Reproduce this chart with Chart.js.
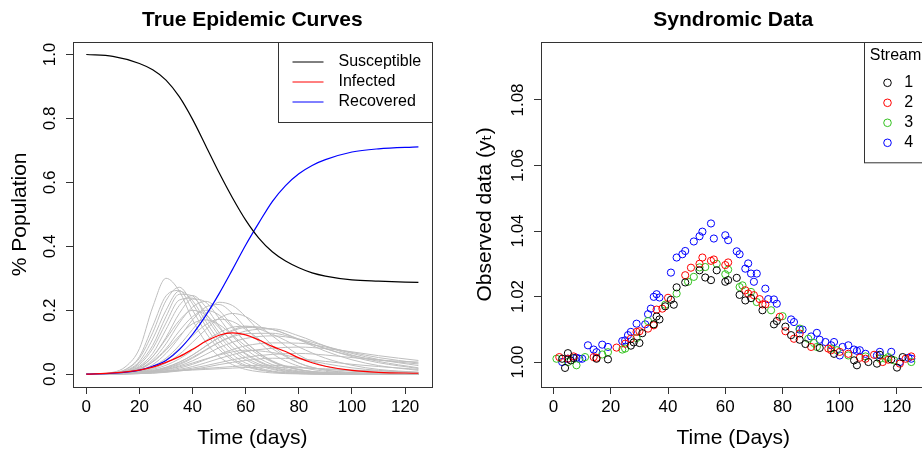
<!DOCTYPE html>
<html>
<head>
<meta charset="utf-8">
<script src="https://cdn.jsdelivr.net/npm/chart.js@4.4.1/dist/chart.umd.min.js"></script>
<style>
  html, body { margin: 0; padding: 0; background: #fff; overflow: hidden; width: 922px; height: 452px; }
  #left { position: absolute; left: 0; top: 0; }
  #right { position: absolute; left: 461px; top: 0; }
</style>
</head>
<body>
<canvas id="left" width="461" height="452"></canvas>
<canvas id="right" width="490" height="452"></canvas>
<script>
// Left panel - true epidemic curves
const sirDays = [0, 10, 20, 25, 30, 35, 40, 45, 50, 55, 60, 65, 70, 75, 80, 85, 90, 100, 110, 125];
const susceptible = [1.0, 0.994, 0.972, 0.952, 0.92, 0.868, 0.797, 0.714, 0.63, 0.552, 0.482, 0.425, 0.383, 0.354, 0.333, 0.317, 0.307, 0.295, 0.291, 0.287];
const infected = [0, 0.004, 0.013, 0.022, 0.037, 0.055, 0.078, 0.103, 0.122, 0.129, 0.123, 0.107, 0.087, 0.071, 0.051, 0.036, 0.025, 0.012, 0.006, 0.003];
const recovered = [0, 0.003, 0.013, 0.025, 0.043, 0.077, 0.125, 0.184, 0.252, 0.327, 0.404, 0.474, 0.54, 0.59, 0.627, 0.653, 0.671, 0.695, 0.705, 0.711];
const sirLabels = ["Susceptible", "Infected", "Recovered"];

// grey runs (infected curves of other samples)
const grayDays = [0, 10, 15, 20, 25, 30, 35, 40, 45, 50, 55, 60, 70, 80, 90, 100, 110, 125];
const grayRuns = [
    [0, 0.006, 0.025, 0.08, 0.21, 0.30, 0.26, 0.17, 0.10, 0.055, 0.03, 0.015, 0.004, 0.001, 0, 0, 0, 0],
    [0, 0.004, 0.015, 0.05, 0.13, 0.23, 0.272, 0.22, 0.15, 0.09, 0.05, 0.028, 0.008, 0.002, 0.001, 0, 0, 0],
    [0, 0.004, 0.016, 0.055, 0.15, 0.245, 0.262, 0.2, 0.13, 0.078, 0.044, 0.024, 0.007, 0.002, 0, 0, 0, 0],
    [0, 0.003, 0.012, 0.04, 0.11, 0.20, 0.26, 0.23, 0.165, 0.105, 0.062, 0.035, 0.01, 0.003, 0.001, 0, 0, 0],
    [0, 0.003, 0.01, 0.035, 0.09, 0.18, 0.25, 0.245, 0.18, 0.12, 0.075, 0.045, 0.015, 0.004, 0.001, 0, 0, 0],
    [0, 0.003, 0.01, 0.03, 0.08, 0.16, 0.232, 0.238, 0.19, 0.13, 0.085, 0.052, 0.018, 0.005, 0.002, 0, 0, 0],
    [0, 0.002, 0.008, 0.025, 0.065, 0.14, 0.215, 0.246, 0.21, 0.15, 0.10, 0.062, 0.022, 0.007, 0.002, 0.001, 0, 0],
    [0, 0.002, 0.007, 0.02, 0.055, 0.115, 0.19, 0.235, 0.225, 0.175, 0.12, 0.078, 0.03, 0.01, 0.003, 0.001, 0, 0],
    [0, 0.002, 0.006, 0.017, 0.045, 0.095, 0.16, 0.21, 0.228, 0.2, 0.15, 0.1, 0.042, 0.015, 0.005, 0.002, 0, 0],
    [0, 0.001, 0.004, 0.01, 0.025, 0.05, 0.09, 0.14, 0.19, 0.225, 0.215, 0.18, 0.09, 0.035, 0.013, 0.005, 0.002, 0],
    [0, 0.001, 0.004, 0.012, 0.03, 0.065, 0.115, 0.17, 0.21, 0.218, 0.19, 0.145, 0.065, 0.025, 0.009, 0.003, 0.001, 0],
    [0, 0.002, 0.008, 0.022, 0.055, 0.11, 0.168, 0.2, 0.185, 0.145, 0.1, 0.065, 0.024, 0.008, 0.003, 0.001, 0, 0],
    [0, 0.002, 0.006, 0.015, 0.04, 0.08, 0.135, 0.18, 0.2, 0.185, 0.145, 0.1, 0.04, 0.014, 0.005, 0.002, 0, 0],
    [0, 0.002, 0.006, 0.016, 0.038, 0.075, 0.12, 0.158, 0.17, 0.155, 0.122, 0.088, 0.038, 0.014, 0.005, 0.002, 0.001, 0],
    [0, 0.001, 0.003, 0.008, 0.018, 0.035, 0.062, 0.1, 0.14, 0.175, 0.19, 0.18, 0.12, 0.06, 0.025, 0.01, 0.004, 0.001],
    [0, 0.001, 0.003, 0.009, 0.022, 0.045, 0.08, 0.12, 0.155, 0.172, 0.165, 0.14, 0.08, 0.035, 0.013, 0.005, 0.002, 0],
    [0, 0.001, 0.003, 0.006, 0.012, 0.022, 0.038, 0.06, 0.088, 0.115, 0.138, 0.15, 0.14, 0.11, 0.08, 0.058, 0.045, 0.038],
    [0, 0.001, 0.003, 0.007, 0.015, 0.028, 0.048, 0.075, 0.105, 0.13, 0.147, 0.15, 0.125, 0.085, 0.05, 0.028, 0.015, 0.006],
    [0, 0.001, 0.002, 0.005, 0.011, 0.021, 0.037, 0.06, 0.088, 0.115, 0.135, 0.146, 0.14, 0.108, 0.072, 0.045, 0.027, 0.012],
    [0, 0.001, 0.002, 0.004, 0.009, 0.017, 0.03, 0.05, 0.075, 0.1, 0.12, 0.135, 0.142, 0.12, 0.088, 0.06, 0.04, 0.02],
    [0, 0.001, 0.002, 0.005, 0.01, 0.019, 0.033, 0.053, 0.077, 0.1, 0.117, 0.127, 0.128, 0.108, 0.08, 0.055, 0.036, 0.018],
    [0, 0.001, 0.002, 0.004, 0.008, 0.015, 0.026, 0.042, 0.062, 0.083, 0.1, 0.112, 0.12, 0.11, 0.088, 0.065, 0.046, 0.027],
    [0, 0, 0.001, 0.003, 0.006, 0.011, 0.019, 0.031, 0.046, 0.062, 0.077, 0.089, 0.098, 0.097, 0.085, 0.068, 0.052, 0.035],
    [0, 0, 0.001, 0.002, 0.005, 0.009, 0.015, 0.024, 0.036, 0.049, 0.061, 0.071, 0.081, 0.085, 0.08, 0.07, 0.058, 0.043],
    [0, 0.001, 0.002, 0.004, 0.008, 0.014, 0.023, 0.035, 0.048, 0.06, 0.07, 0.075, 0.068, 0.05, 0.033, 0.02, 0.012, 0.005],
    [0, 0, 0.001, 0.002, 0.004, 0.007, 0.012, 0.019, 0.027, 0.036, 0.045, 0.053, 0.062, 0.065, 0.06, 0.052, 0.044, 0.032],
    [0, 0, 0.001, 0.002, 0.003, 0.006, 0.01, 0.015, 0.022, 0.03, 0.037, 0.043, 0.05, 0.048, 0.04, 0.031, 0.024, 0.015],
    [0, 0.002, 0.004, 0.006, 0.008, 0.01, 0.012, 0.015, 0.018, 0.021, 0.024, 0.027, 0.028, 0.022, 0.015, 0.01, 0.006, 0.003],
    [0, 0.002, 0.003, 0.005, 0.007, 0.009, 0.011, 0.013, 0.015, 0.017, 0.019, 0.021, 0.022, 0.02, 0.017, 0.013, 0.01, 0.006]
];

const leftXTicks = [0, 20, 40, 60, 80, 100, 120];
const leftYTicks = [0, 0.2, 0.4, 0.6, 0.8, 1.0];
const leftYLabels = ["0.0", "0.2", "0.4", "0.6", "0.8", "1.0"];

// Right panel - syndromic data, 4 streams
const days1 = [3, 4, 5, 6, 7, 15, 19, 27, 28, 30, 31, 35, 36, 37, 39, 41, 42, 43, 46, 51, 53, 55, 57, 60, 61, 64, 65, 67, 69, 73, 77, 78, 81, 83, 86, 88, 93, 98, 105, 106, 110, 113, 114, 118, 120, 122];
const vals1 = [1.0010, 0.9982, 1.0027, 1.0005, 1.0012, 1.0010, 1.0008, 1.0050, 1.0060, 1.0058, 1.0088, 1.0115, 1.0139, 1.0130, 1.0170, 1.0190, 1.0175, 1.0228, 1.0243, 1.0280, 1.0258, 1.0250, 1.0280, 1.0245, 1.0250, 1.0257, 1.0205, 1.0188, 1.0195, 1.0158, 1.0115, 1.0125, 1.0108, 1.0082, 1.0068, 1.0055, 1.0043, 1.0025, 1.0005, 0.9990, 1.0000, 0.9995, 1.0022, 1.0008, 0.9983, 1.0015];
const days2 = [2, 5, 7, 14, 15, 22, 25, 27, 29, 30, 33, 35, 36, 38, 40, 46, 48, 51, 52, 55, 56, 60, 61, 67, 68, 70, 72, 73, 74, 79, 81, 84, 86, 90, 96, 97, 100, 103, 107, 109, 112, 115, 117, 121, 123, 125];
const vals2 = [1.0015, 1.0010, 1.0017, 1.0015, 1.0013, 1.0044, 1.0056, 1.0071, 1.0092, 1.0094, 1.0102, 1.0112, 1.0160, 1.0163, 1.0196, 1.0265, 1.0288, 1.0300, 1.0319, 1.0309, 1.0313, 1.0296, 1.0304, 1.0219, 1.0209, 1.0204, 1.0192, 1.0176, 1.0176, 1.0138, 1.0094, 1.0071, 1.0087, 1.0046, 1.0041, 1.0036, 1.0031, 1.0025, 1.0013, 1.0010, 1.0022, 1.0000, 1.0007, 0.9995, 1.0010, 1.0017];
const days3 = [1, 5, 8, 11, 17, 19, 24, 25, 29, 33, 35, 39, 43, 47, 49, 51, 53, 57, 60, 61, 65, 66, 69, 71, 76, 80, 86, 89, 91, 92, 97, 99, 103, 109, 114, 116, 117, 119, 125];
const vals3 = [1.0010, 1.0000, 0.9990, 1.0015, 1.0023, 1.0030, 1.0038, 1.0041, 1.0073, 1.0125, 1.0115, 1.0175, 1.0209, 1.0245, 1.0260, 1.0289, 1.0290, 1.0300, 1.0268, 1.0282, 1.0229, 1.0234, 1.0214, 1.0183, 1.0158, 1.0140, 1.0102, 1.0071, 1.0058, 1.0046, 1.0041, 1.0036, 1.0020, 1.0017, 1.0010, 1.0010, 1.0015, 1.0005, 1.0000];
const days4 = [3, 5, 8, 9, 10, 12, 14, 15, 17, 19, 24, 25, 26, 27, 29, 32, 33, 34, 35, 36, 37, 41, 43, 45, 46, 49, 51, 52, 55, 56, 60, 61, 64, 65, 67, 68, 69, 70, 71, 74, 75, 77, 78, 83, 84, 86, 87, 90, 92, 93, 95, 97, 98, 100, 101, 103, 105, 106, 107, 109, 113, 114, 118, 121, 124, 125];
const vals4 = [1.0000, 1.0010, 1.0013, 1.0010, 1.0010, 1.0051, 1.0038, 1.0030, 1.0053, 1.0046, 1.0064, 1.0066, 1.0082, 1.0092, 1.0117, 1.0115, 1.0146, 1.0163, 1.0199, 1.0207, 1.0197, 1.0273, 1.0319, 1.0329, 1.0339, 1.0368, 1.0384, 1.0398, 1.0423, 1.0377, 1.0387, 1.0372, 1.0338, 1.0329, 1.0285, 1.0301, 1.0270, 1.0245, 1.0270, 1.0224, 1.0192, 1.0191, 1.0178, 1.0130, 1.0122, 1.0099, 1.0099, 1.0078, 1.0089, 1.0068, 1.0061, 1.0051, 1.0061, 1.0020, 1.0046, 1.0051, 1.0038, 1.0034, 1.0036, 1.0025, 1.0020, 1.0031, 1.0031, 1.0000, 1.0013, 1.0010];
const streamNames = ["1", "2", "3", "4"];
const streamColors = ["#000000", "#FF0000", "#33C21F", "#0000FF"];

const rightXTicks = [0, 20, 40, 60, 80, 100, 120];
const rightYTicks = [1.00, 1.02, 1.04, 1.06, 1.08];
const rightYLabels = ["1.00", "1.02", "1.04", "1.06", "1.08"];

const family = "'Liberation Sans', Arial, Helvetica, 'DejaVu Sans', sans-serif";
Chart.defaults.font.family = family;
Chart.defaults.color = "#000";

function pairs(xs, ys) {
    return xs.map((x, i) => ({ x: x, y: ys[i] }));
}

// box, rotated y labels and legend in R style
const rFrame = {
    id: "rFrame",
    afterDraw(chart, args, o) {
        const ctx = chart.ctx;
        const a = chart.chartArea;
        const y = chart.scales.y;
        ctx.save();
        ctx.strokeStyle = "#333";
        ctx.lineWidth = 1;
        ctx.strokeRect(Math.round(a.left) + 0.5, Math.round(a.top) + 0.5, Math.round(a.right - a.left), Math.round(a.bottom - a.top));

        ctx.fillStyle = "#000";
        ctx.font = "17px " + family;
        ctx.textAlign = "center";
        ctx.textBaseline = "middle";
        o.yTicks.forEach((v, i) => {
            ctx.save();
            ctx.translate(a.left - 22.3, y.getPixelForValue(v));
            ctx.rotate(-Math.PI / 2);
            ctx.fillText(o.yLabels[i], 0, 0);
            ctx.restore();
        });

        const L = o.legend;
        const bx = Math.round(L.left) + 0.5;
        const by = Math.round(a.top) + 0.5;
        const bw = Math.round(a.right - L.left);
        ctx.fillStyle = "#fff";
        ctx.fillRect(bx, by, bw, L.height);
        ctx.strokeStyle = "#333";
        ctx.strokeRect(bx, by, bw, L.height);
        ctx.font = "16px " + family;
        ctx.fillStyle = "#000";
        if (L.title) {
            ctx.textAlign = "center";
            ctx.fillText(L.title, bx + bw / 2, a.top + L.titleY);
        }
        ctx.textAlign = "left";
        for (let i = 0; i < L.count; i++) {
            const ds = chart.data.datasets[i];
            const ry = a.top + L.rowY + i * 20;
            ctx.strokeStyle = ds.borderColor;
            ctx.lineWidth = 1;
            ctx.beginPath();
            if (L.symbol === "line") {
                ctx.moveTo(bx + 14, ry);
                ctx.lineTo(bx + 45, ry);
            } else {
                ctx.arc(bx + 23, ry, 3.8, 0, Math.PI * 2);
            }
            ctx.stroke();
            ctx.fillStyle = "#000";
            ctx.fillText(ds.label, bx + L.textX, ry);
        }
        ctx.restore();
    }
};

function axes(xMin, xMax, xTicks, yMin, yMax, yTicks, xTitle, yTitle, yWidth, yTitlePad) {
    const tickGrid = { display: true, drawOnChartArea: false, drawTicks: true, tickLength: 7, color: "#333", lineWidth: 1 };
    return {
        x: {
            type: "linear", min: xMin, max: xMax,
            afterBuildTicks: s => { s.ticks = xTicks.map(v => ({ value: v })); },
            afterFit: s => { s.height = 65; },
            grid: tickGrid,
            border: { display: false },
            ticks: { font: { size: 17 }, color: "#000", padding: 3, maxRotation: 0, autoSkip: false },
            title: { display: true, text: xTitle, font: { size: 21 }, color: "#000", padding: { top: 0, bottom: 1.4 } }
        },
        y: {
            type: "linear", min: yMin, max: yMax,
            afterBuildTicks: s => { s.ticks = yTicks.map(v => ({ value: v })); },
            afterFit: s => { s.width = yWidth; },
            grid: tickGrid,
            border: { display: false },
            ticks: { display: false },
            title: { display: true, text: yTitle, font: { size: 21 }, color: "#000", padding: { top: yTitlePad, bottom: 0 } }
        }
    };
}

function titleOpts(text) {
    return {
        display: true, text: text, fullSize: false, color: "#000",
        font: { size: 21, weight: "bold" },
        padding: { top: 7.8, bottom: 8.7 }
    };
}

// Left chart
const leftSets = [
    { label: sirLabels[0], data: pairs(sirDays, susceptible), borderColor: "#000000" },
    { label: sirLabels[1], data: pairs(sirDays, infected), borderColor: "#FF0000" },
    { label: sirLabels[2], data: pairs(sirDays, recovered), borderColor: "#0000FF" }
].concat(grayRuns.map(run => ({ label: "", data: pairs(grayDays, run), borderColor: "#BEBEBE", borderWidth: 1 })));

new Chart(document.getElementById("left"), {
    type: "line",
    data: { datasets: leftSets },
    options: {
        responsive: false,
        animation: false,
        layout: { padding: { left: 0, top: 0, right: 29.3, bottom: 0 } },
        elements: {
            line: { borderWidth: 1.2, cubicInterpolationMode: "monotone", fill: false },
            point: { radius: 0, hoverRadius: 0 }
        },
        scales: axes(-5, 130, leftXTicks, -0.04, 1.04, leftYTicks, "Time (days)", "% Population", 73, 7.9),
        plugins: {
            legend: { display: false },
            tooltip: { enabled: false },
            title: titleOpts("True Epidemic Curves"),
            rFrame: {
                yTicks: leftYTicks, yLabels: leftYLabels,
                legend: { left: 277.7, height: 80, count: 3, symbol: "line", rowY: 20.3, textX: 60 }
            }
        }
    },
    plugins: [rFrame]
});

// Right chart
const streamDays = [days1, days2, days3, days4];
const streamVals = [vals1, vals2, vals3, vals4];
const rightSets = streamNames.map((name, i) => ({
    label: name,
    data: pairs(streamDays[i], streamVals[i]),
    borderColor: streamColors[i],
    backgroundColor: "rgba(0,0,0,0)",
    pointStyle: "circle",
    pointRadius: 3.6,
    pointHoverRadius: 3.6,
    pointBorderWidth: 1
}));

new Chart(document.getElementById("right"), {
    type: "scatter",
    data: { datasets: rightSets },
    options: {
        responsive: false,
        animation: false,
        layout: { padding: { left: 0, top: 0, right: 25.4, bottom: 0 } },
        scales: axes(-4.4, 130, rightXTicks, 0.99237, 1.0978, rightYTicks, "Time (Days)", "Observed data (yₜ)", 80, 11.4),
        plugins: {
            legend: { display: false },
            tooltip: { enabled: false },
            title: titleOpts("Syndromic Data"),
            rFrame: {
                yTicks: rightYTicks, yLabels: rightYLabels,
                legend: { left: 403, height: 120.3, count: 4, symbol: "circle", title: "Stream", titleY: 13.6, rowY: 41.1, textX: 39.7 }
            }
        }
    },
    plugins: [rFrame]
});
</script>
</body>
</html>
